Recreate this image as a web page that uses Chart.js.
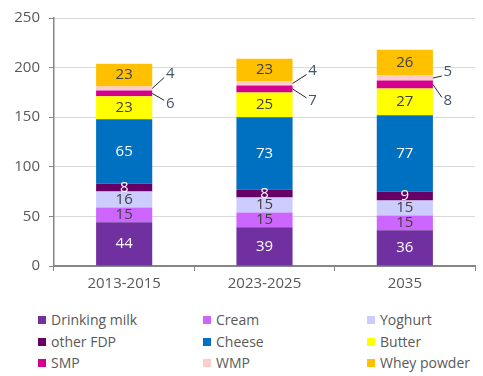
<!DOCTYPE html>
<html>
<head>
<meta charset="utf-8">
<script src="https://cdn.jsdelivr.net/npm/chart.js@4"></script>
<style>
    body { margin: 0; background: #fff; font-family: 'Open Sans', sans-serif; }
    #wrap { position: relative; width: 483px; height: 376px; }
    #chartBox { position: absolute; left: 0; top: 0; width: 483px; height: 300px; }
    #legend { position: absolute; left: 0; top: 310px; width: 483px; }
    .item { position: absolute; font-size: 14px; color: #595959; white-space: nowrap; line-height: 20px; }
    .item span { display: inline-block; width: 8px; height: 8px; margin-right: 5px; vertical-align: 1px; }
</style>
</head>
<body>
<div id="wrap">
    <div id="chartBox"><canvas id="dairyChart"></canvas></div>
    <div id="legend"></div>
</div>
<script>
// Date
const periods = ['2013-2015', '2023-2025', '2035'];
const drinkingMilk = [44, 39, 36];
const cream = [15, 15, 15];
const yoghurt = [16, 15, 15];
const otherFDP = [8, 8, 9];
const cheese = [65, 73, 77];
const butter = [23, 25, 27];
const smp = [6, 7, 8];
const wmp = [4, 4, 5];
const wheyPowder = [23, 23, 26];
const yTicks = [0, 50, 100, 150, 200, 250];

const series = [
    { label: 'Drinking milk', data: drinkingMilk, color: '#7030A0', text: '#ffffff' },
    { label: 'Cream', data: cream, color: '#CC66FF', text: '#404040' },
    { label: 'Yoghurt', data: yoghurt, color: '#CCCCFF', text: '#404040' },
    { label: 'other FDP', data: otherFDP, color: '#660066', text: '#ffffff' },
    { label: 'Cheese', data: cheese, color: '#0070C0', text: '#ffffff' },
    { label: 'Butter', data: butter, color: '#FFFF00', text: '#404040' },
    { label: 'SMP', data: smp, color: '#D6008F', text: '#404040', outside: 'below' },
    { label: 'WMP', data: wmp, color: '#FFCCCC', text: '#404040', outside: 'above' },
    { label: 'Whey powder', data: wheyPowder, color: '#FFC000', text: '#404040' }
];

// Etichete de valori, cele mici in afara barei cu linie de legatura
const valueLabels = {
    id: 'valueLabels',
    afterDatasetsDraw(chart) {
        const ctx = chart.ctx;
        ctx.save();
        ctx.font = '15px "Open Sans"';
        ctx.textAlign = 'center';
        ctx.textBaseline = 'middle';
        chart.data.datasets.forEach((ds, di) => {
            const meta = chart.getDatasetMeta(di);
            const s = series[di];
            meta.data.forEach((bar, i) => {
                const v = ds.data[i];
                const mid = (bar.y + bar.base) / 2;
                if (s.outside) {
                    const right = bar.x + bar.width / 2;
                    const dy = s.outside === 'above' ? [-15, -13, -6][i] : [10, 12, 16][i];
                    const dx = [18, 20, 15][i];
                    ctx.strokeStyle = '#262626';
                    ctx.lineWidth = 1;
                    ctx.beginPath();
                    ctx.moveTo(right, mid);
                    ctx.lineTo(right + dx - 6, mid + dy + (dy < 0 ? 4 : -3));
                    ctx.stroke();
                    ctx.fillStyle = '#44546A';
                    ctx.fillText(v, right + dx, mid + dy);
                } else {
                    ctx.fillStyle = s.text;
                    ctx.fillText(v, bar.x, mid);
                }
            });
        });
        ctx.restore();
    }
};

const ctx = document.getElementById('dairyChart').getContext('2d');
const dairyChart = new Chart(ctx, {
    type: 'bar',
    data: {
        labels: periods,
        datasets: series.map(s => ({
            label: s.label,
            data: s.data,
            backgroundColor: s.color,
            borderWidth: 0,
            categoryPercentage: 1,
            barPercentage: 0.4
        }))
    },
    options: {
        responsive: true,
        maintainAspectRatio: false,
        animation: false,
        layout: {
            padding: { top: 16, right: 8, left: 0, bottom: 0 }
        },
        plugins: {
            legend: { display: false },
            tooltip: { enabled: false }
        },
        scales: {
            x: {
                stacked: true,
                afterFit: s => { s.height = 34; },
                grid: {
                    display: true,
                    drawOnChartArea: false,
                    tickLength: 5,
                    color: '#868686'
                },
                border: { color: '#868686', width: 2 },
                ticks: {
                    color: '#595959',
                    font: { family: 'Open Sans', size: 15 },
                    padding: 4
                }
            },
            y: {
                stacked: true,
                min: 0,
                max: 250,
                afterFit: s => { s.width = 54; },
                afterBuildTicks: s => { s.ticks = yTicks.map(v => ({ value: v })); },
                grid: {
                    color: '#d9d9d9',
                    tickLength: 5,
                    tickColor: '#868686'
                },
                border: { color: '#868686', width: 1.5 },
                ticks: {
                    color: '#595959',
                    font: { family: 'Open Sans', size: 15 },
                    padding: 9
                }
            }
        }
    },
    plugins: [valueLabels]
});

// Legenda pe trei coloane
const legendBox = document.getElementById('legend');
const colX = [38, 203, 367];
series.forEach((s, i) => {
    const el = document.createElement('div');
    el.className = 'item';
    el.style.left = colX[i % 3] + 'px';
    el.style.top = Math.floor(i / 3) * 21.5 + 'px';
    el.innerHTML = '<span style="background:' + s.color + '"></span>' + s.label;
    legendBox.appendChild(el);
});
</script>
</body>
</html>
